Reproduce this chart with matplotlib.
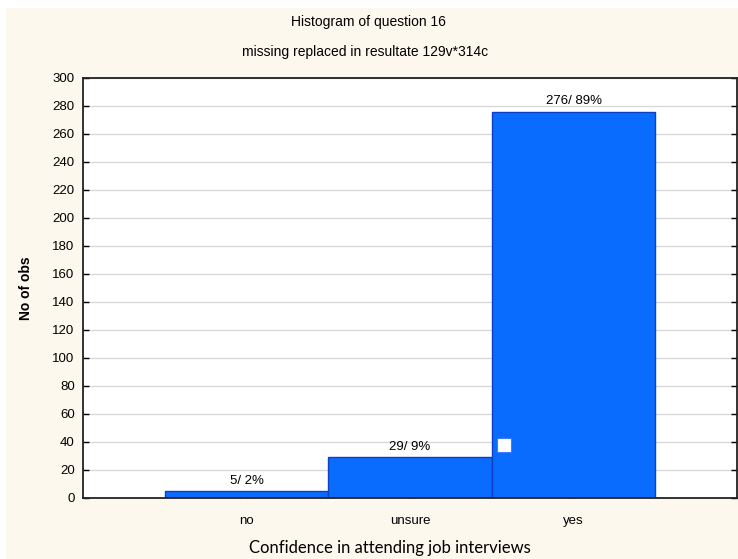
import matplotlib
matplotlib.use("Agg")
import matplotlib.pyplot as plt
from matplotlib.patches import Rectangle

categories = ["no", "unsure", "yes"]
counts = [5, 29, 276]
percents = [2, 9, 89]
y_ticks = list(range(0, 301, 20))

plt.rcParams['font.family'] = ['Liberation Sans Narrow', 'Liberation Sans', 'DejaVu Sans']

fig = plt.figure(figsize=(7.38, 5.59), dpi=100)
fig.patch.set_facecolor("white")
# cream panel behind the chart
fig.patches.append(Rectangle((0.008, 0.0), 0.992, 0.986, transform=fig.transFigure,
                             facecolor="#fdf8ee", edgecolor="none", zorder=-1))

ax = fig.add_axes([83 / 738, 1 - 498 / 559, 654 / 738, 420 / 559])
ax.set_facecolor("white")

xpos = range(len(categories))
bars = ax.bar(xpos, counts, width=1.0, color="#0a6cff", edgecolor="#0b3fc4",
              linewidth=1.0, zorder=2)
for x, c, p in zip(xpos, counts, percents):
    ax.text(x, c + 3, f"{c}/ {p}%", ha="center", va="bottom", fontsize=9.5, zorder=4)

# small white box that sits on the "yes" bar
ax.add_patch(Rectangle((1.53, 33), 0.085, 10, facecolor="white", edgecolor="#3d7cff",
                       linewidth=0.8, zorder=3))

ax.set_xlim(-1, 3)
ax.set_ylim(0, 300)
ax.set_yticks(y_ticks)
ax.set_xticks(list(xpos))
ax.set_xticklabels(categories)
ax.yaxis.grid(True, color="#d9d9d9", linewidth=1.0, zorder=0)
ax.set_axisbelow(True)
ax.tick_params(axis="both", direction="in", length=4, width=1, labelsize=9.5,
               right=True, pad=6)
ax.tick_params(axis="x", pad=12, top=False)
for s in ax.spines.values():
    s.set_linewidth(1.3)
    s.set_color("#222222")

ax.set_ylabel("No of obs", fontsize=10, fontweight="bold", labelpad=14)

fig.text(368 / 738, 1 - 22 / 559, "Histogram of question 16", ha="center", va="center",
         fontsize=10)
fig.text(365 / 738, 1 - 52 / 559, "missing replaced in resultate 129v*314c", ha="center",
         va="center", fontsize=10)
fig.text(390 / 738, 1 - 548 / 559, "Confidence in attending job interviews", ha="center",
         va="center", fontsize=12, family=["Lato", "DejaVu Sans"])

fig.savefig("out.png", dpi=100, facecolor=fig.get_facecolor())
